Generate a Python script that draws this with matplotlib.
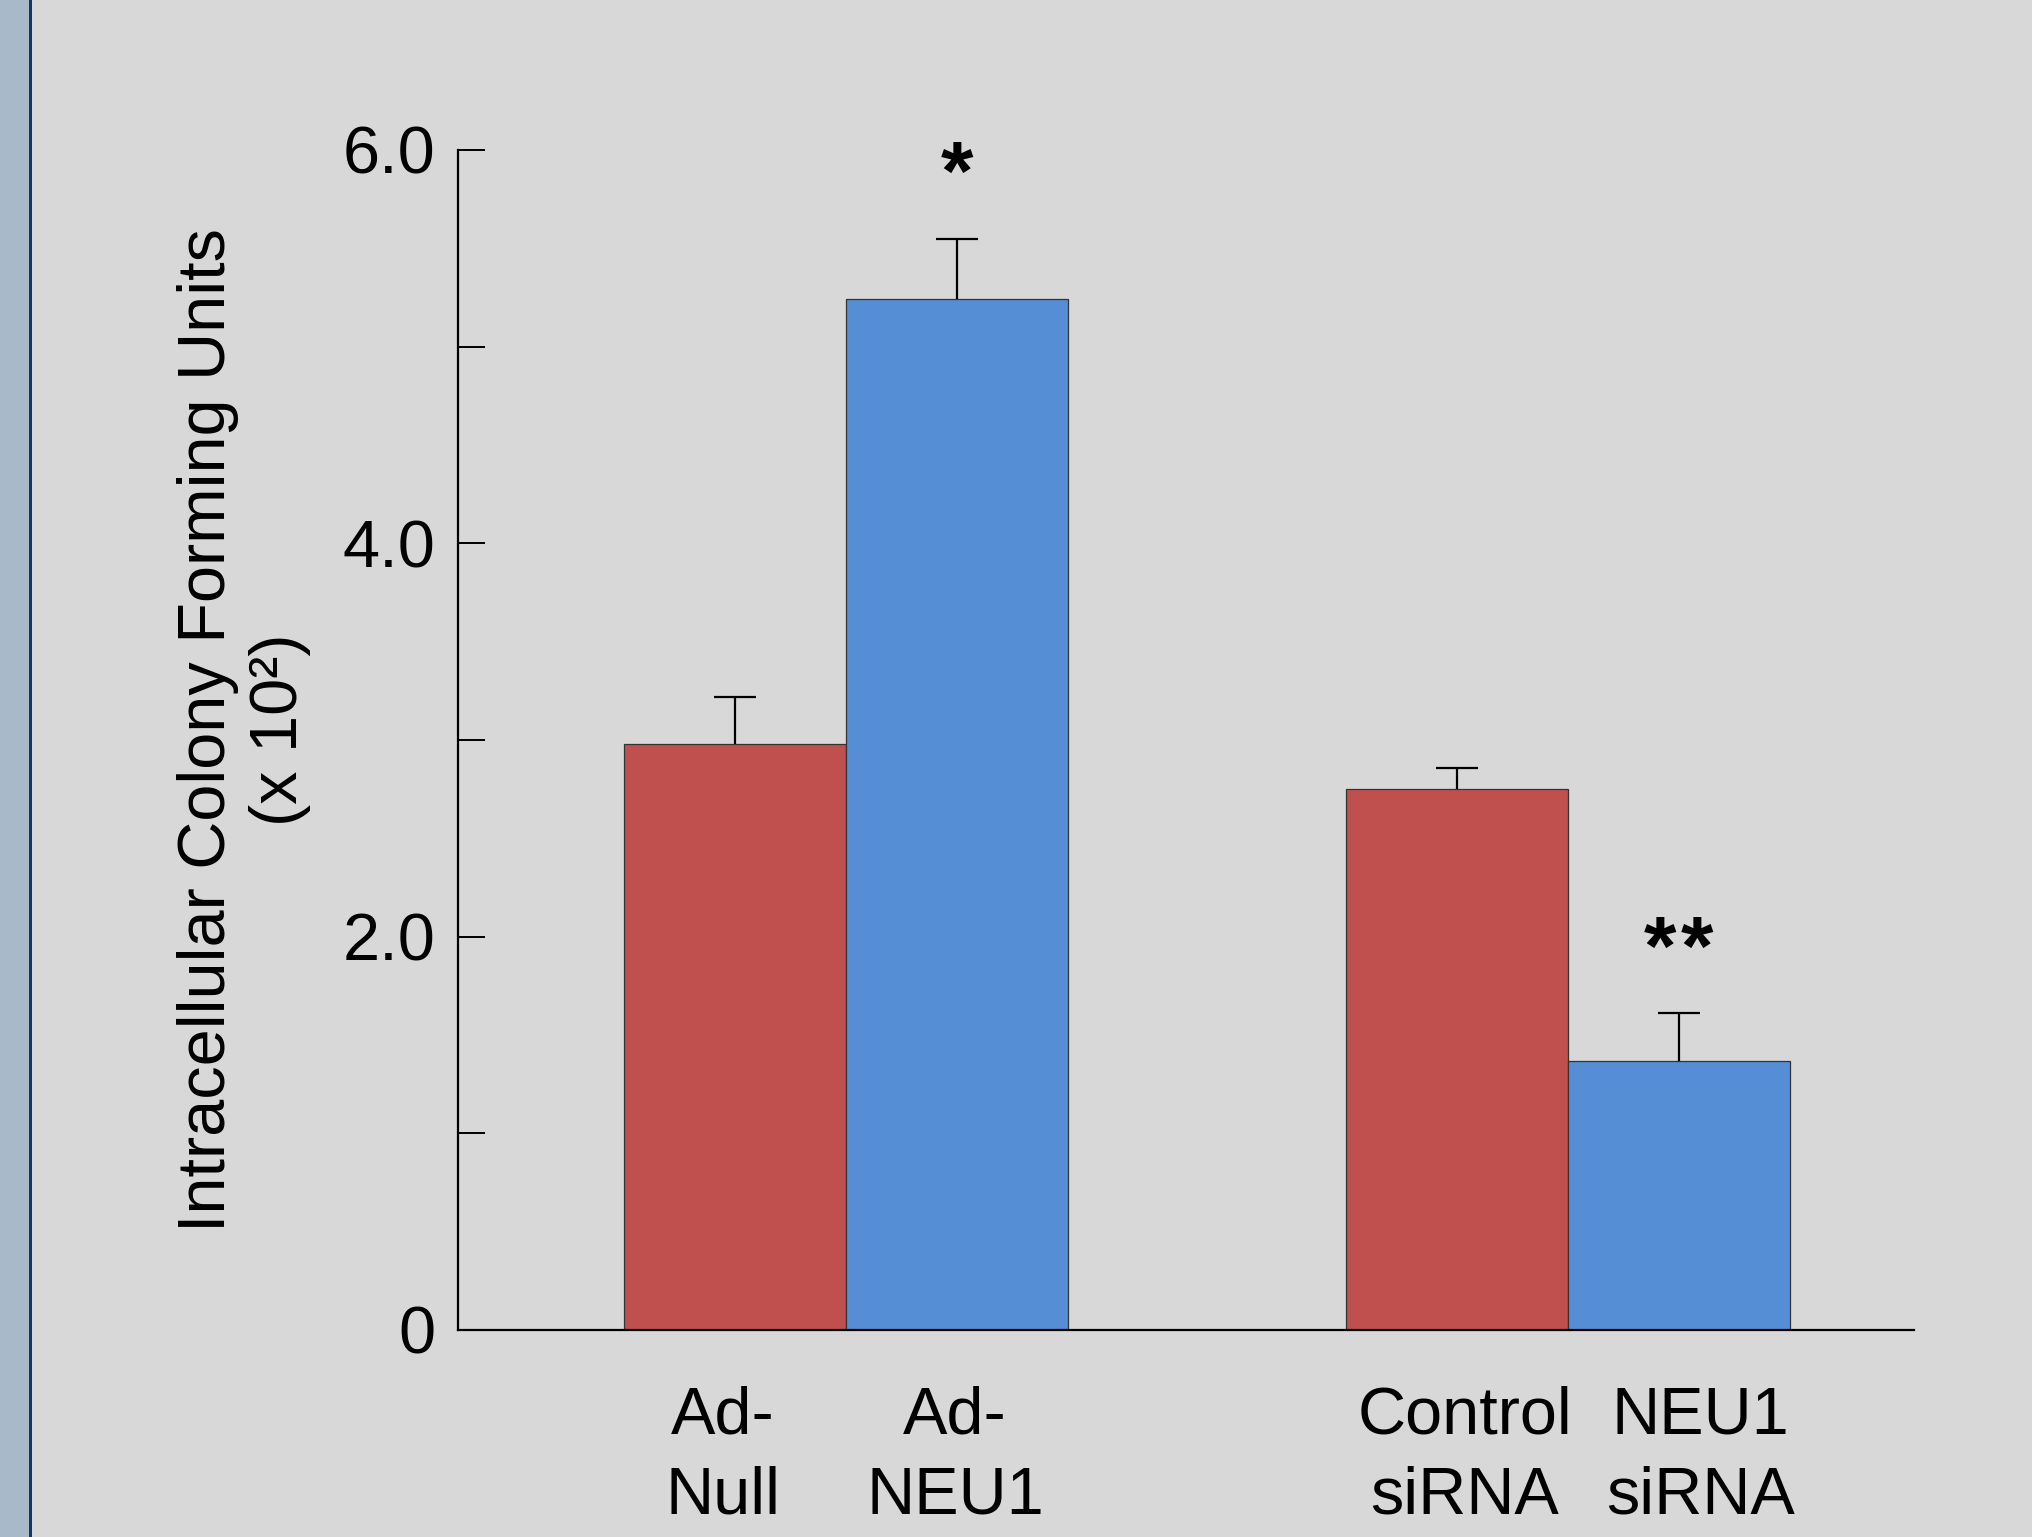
import matplotlib.pyplot as plt
from matplotlib.patches import Rectangle

# data (values in units of 10^2 CFU)
labels = ["Ad-\nNull", "Ad-\nNEU1", "Control\nsiRNA", "NEU1\nsiRNA"]
means = [2.98, 5.24, 2.75, 1.37]
errors = [0.24, 0.31, 0.11, 0.24]
sig_marks = ["", "*", "", "**"]
bar_colors = ["#C0504D", "#558ED5", "#C0504D", "#558ED5"]

yticks = [0, 1, 2, 3, 4, 5, 6]
ytick_labels = ["0", "", "2.0", "", "4.0", "", "6.0"]

# layout (bar slots, not data)
bar_pos = [1.25, 2.25, 4.5, 5.5]
label_pos = [1.194, 2.239, 4.536, 5.599]

plt.rcParams['font.family'] = ['Liberation Sans', 'DejaVu Sans']
bg = "#D8D8D8"

fig = plt.figure(figsize=(20.32, 15.37), dpi=100, facecolor=bg)
W, H = 2032, 1537
# left side decoration
fig.patches.append(Rectangle((0, 0), 29 / W, 1, transform=fig.transFigure,
                             facecolor="#A8B9CA", edgecolor="none"))
fig.patches.append(Rectangle((29 / W, 0), 3 / W, 1, transform=fig.transFigure,
                             facecolor="#12356A", edgecolor="none"))

ax = fig.add_axes([458 / W, 1 - 1330 / H, (1914 - 458) / W, (1330 - 150) / H])
ax.set_facecolor("none")

ax.bar(bar_pos, means, width=1.0, color=bar_colors, edgecolor="#333333",
       linewidth=0.9, zorder=2)
eb = ax.errorbar(bar_pos, means, yerr=[[0] * len(means), errors], fmt="none",
                 ecolor="black", elinewidth=1.6, capsize=14.8, capthick=1.6,
                 zorder=3)
eb[1][0].set_visible(False)  # no cap at the bar top

for x, m, e, s in zip(bar_pos, means, errors, sig_marks):
    if s:
        # spread the stars a little, like the original
        n = len(s)
        for k in range(n):
            dx = (k - (n - 1) / 2) * 0.165
            ax.text(x + dx, m + e + 0.31, "*", ha="center", va="center",
                    fontsize=60, fontweight="bold")

ax.set_xlim(0, 6.56)
ax.set_ylim(0, 6)
ax.set_yticks(yticks)
ax.set_yticklabels(ytick_labels)
ax.set_xticks(label_pos)
ax.set_xticklabels(labels, linespacing=1.38)

for side in ["top", "right"]:
    ax.spines[side].set_visible(False)
for side in ["left", "bottom"]:
    ax.spines[side].set_linewidth(1.6)
    ax.spines[side].set_color("black")

ax.tick_params(axis="y", direction="in", length=19.4, width=1.4,
               labelsize=48, pad=16.5)
ax.tick_params(axis="x", length=0, labelsize=48, pad=40)

fig.text(244 / W, 1 - 730 / H, "Intracellular Colony Forming Units\n(x 10\u00b2)",
         rotation=90, ha="center", va="center", multialignment="center",
         fontsize=48)

fig.savefig("out.png", dpi=100, facecolor=bg)
